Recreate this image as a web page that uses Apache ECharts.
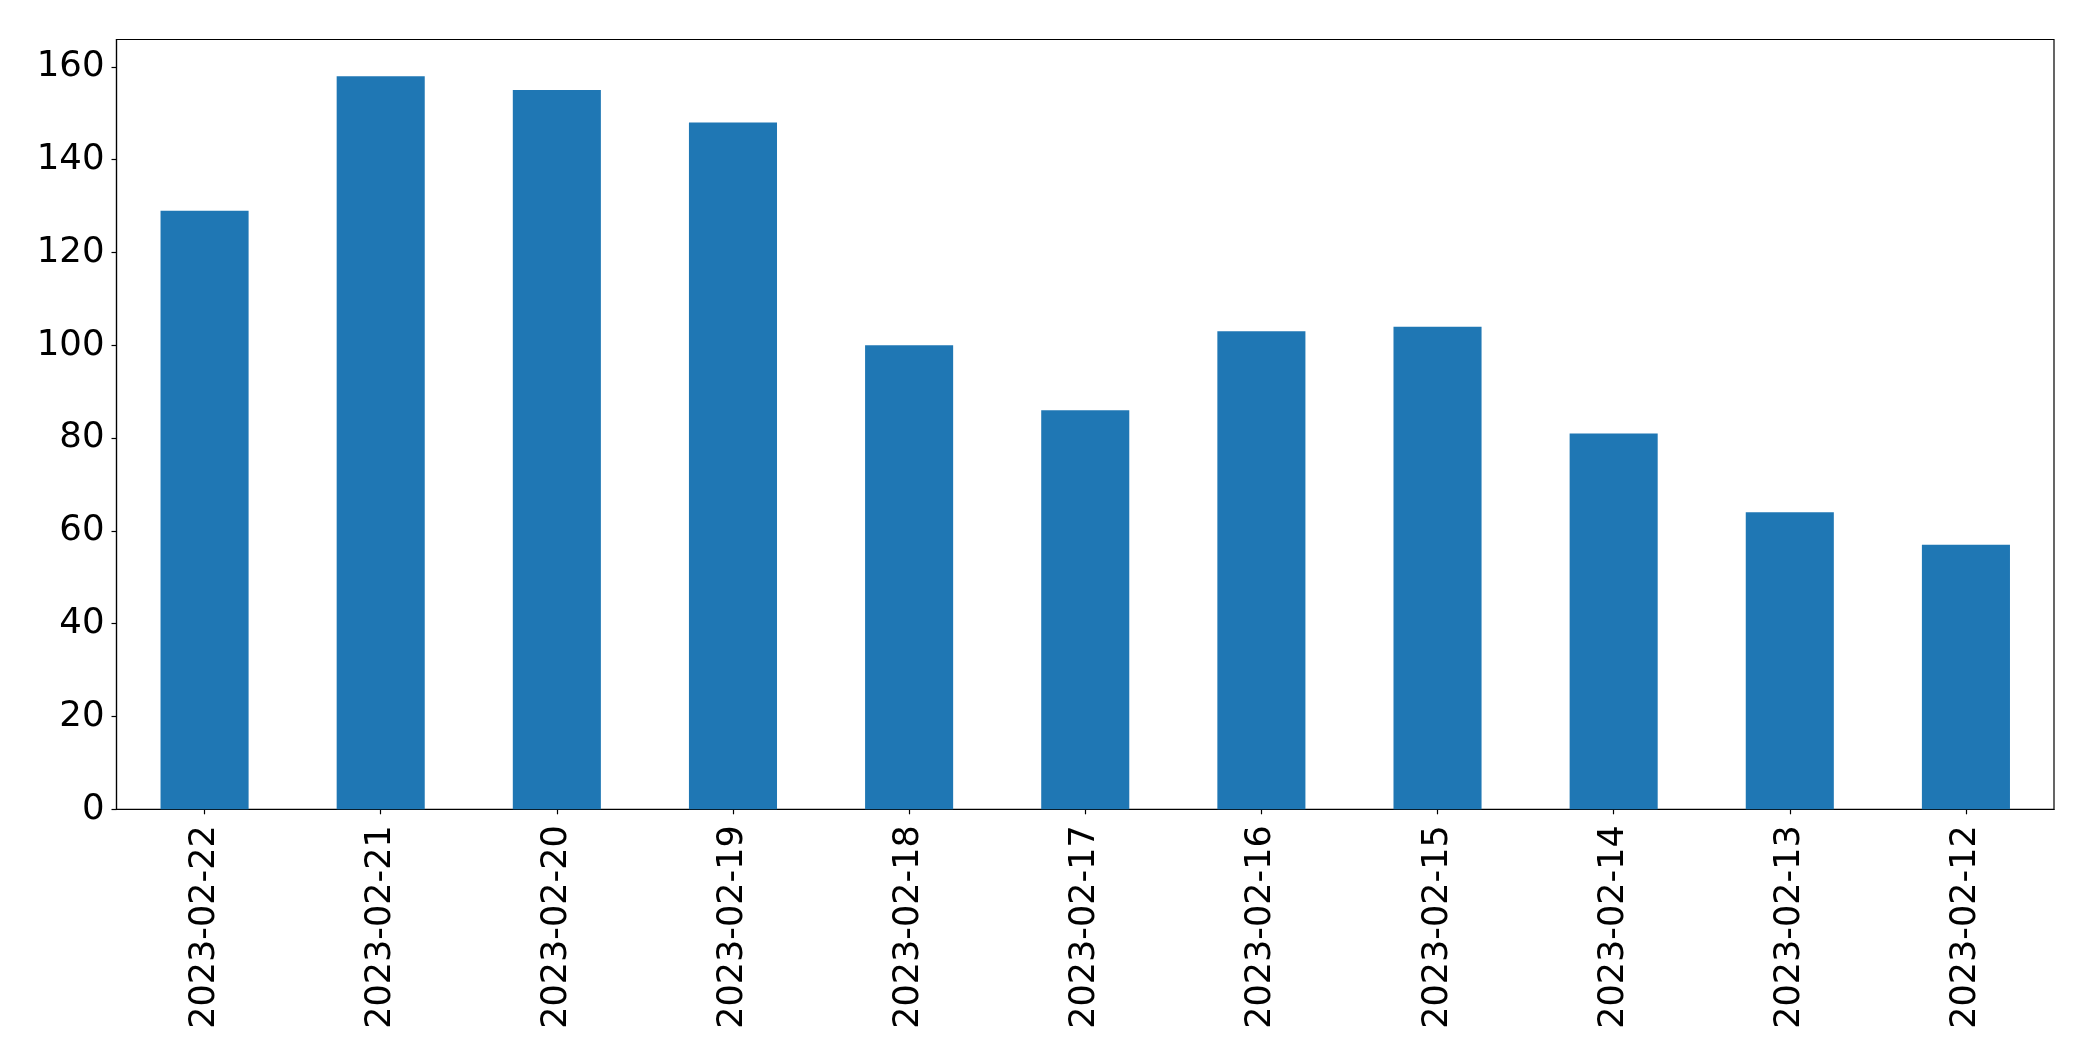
<!DOCTYPE html>
<html>
<head>
<meta charset="utf-8">
<script src="https://cdn.jsdelivr.net/npm/echarts@6/dist/echarts.min.js"></script>
<style>html,body{margin:0;padding:0;background:#fff}#c{width:2093px;height:1061px}</style>
</head>
<body>
<div id="c"></div>
<script>
const categories = ["2023-02-22","2023-02-21","2023-02-20","2023-02-19","2023-02-18","2023-02-17","2023-02-16","2023-02-15","2023-02-14","2023-02-13","2023-02-12"];
const values = [129, 158, 155, 148, 100, 86, 103, 104, 81, 64, 57];
const yTicks = [0, 20, 40, 60, 80, 100, 120, 140, 160];
const yMax = 165.9;

const chart = echarts.init(document.getElementById('c'), null, {renderer: 'canvas'});
const font = 'DejaVu Sans';
chart.setOption({
  animation: false,
  backgroundColor: '#ffffff',
  grid: {
    left: 116.5, right: 39, top: 39.5, bottom: 251.7,
    show: true, borderColor: '#000', borderWidth: 1.2, backgroundColor: 'transparent'
  },
  xAxis: {
    type: 'category',
    data: categories,
    boundaryGap: true,
    axisLine: {show: true, lineStyle: {color: '#000', width: 1.2}},
    axisTick: {show: true, alignWithLabel: true, length: 5, lineStyle: {color: '#000', width: 1.2}},
    axisLabel: {rotate: 90, margin: 16, color: '#000', fontSize: 35, fontFamily: font, interval: 0},
    splitLine: {show: false}
  },
  yAxis: {
    type: 'value',
    min: 0, max: yMax,
    axisLine: {show: true, lineStyle: {color: '#000', width: 1.2}},
    axisTick: {show: true, length: 5, customValues: yTicks, lineStyle: {color: '#000', width: 1.2}},
    axisLabel: {margin: 12, color: '#000', fontSize: 35.5, fontFamily: font, customValues: yTicks, padding: [6, 0, 0, 0]},
    splitLine: {show: false}
  },
  series: [{
    type: 'bar',
    data: values,
    barWidth: '50%',
    itemStyle: {color: '#1f77b4'}
  }]
});
</script>
</body>
</html>
